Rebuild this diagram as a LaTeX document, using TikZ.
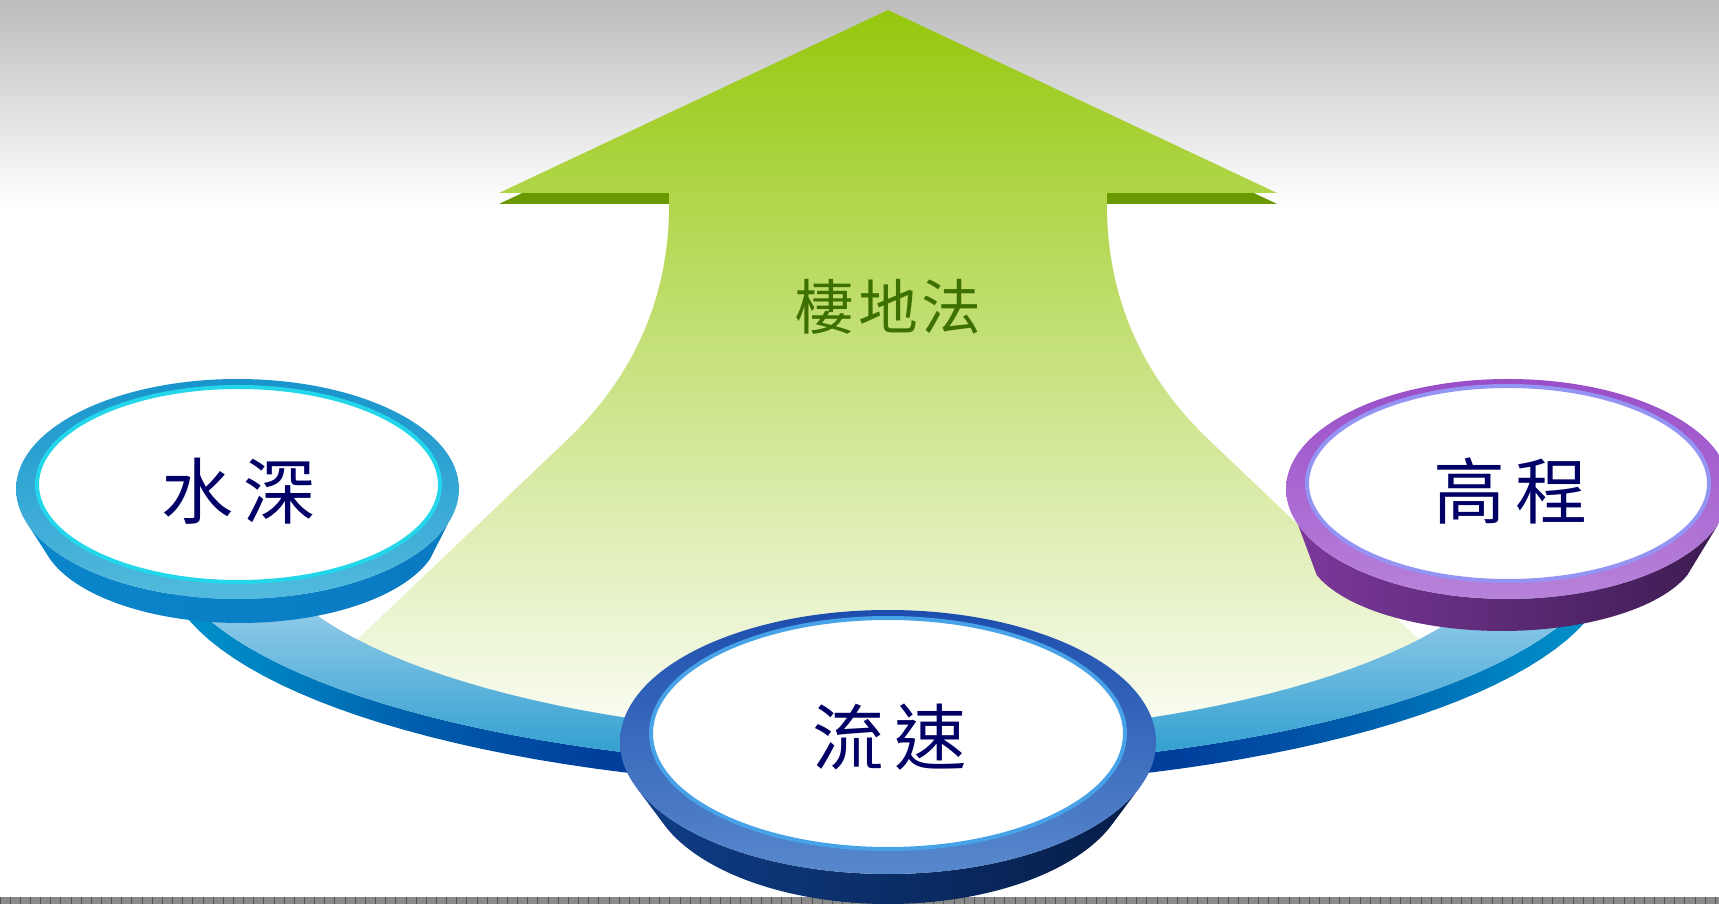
\documentclass[tikz,border=0pt]{standalone}
\usepackage{fontspec}
\newfontfamily\cjk{Noto Sans CJK TC}

% palette
\definecolor{bgtop}{HTML}{BCBCBC}
\definecolor{stripgray}{HTML}{8A8A8A}
\definecolor{stripline}{HTML}{555555}
\definecolor{leaftop}{HTML}{96C80E}
\definecolor{leafmid}{HTML}{D4E8BB}
\definecolor{leafdark}{HTML}{689A00}
\definecolor{titlegreen}{HTML}{3D7000}
\definecolor{labelnavy}{HTML}{000066}
\definecolor{ringtop}{HTML}{C8E4F6}
\definecolor{ringmid}{HTML}{94C8E8}
\definecolor{ringlow}{HTML}{2A9CCF}
\definecolor{ringA}{HTML}{0094CC}
\definecolor{ringB}{HTML}{0080C0}
\definecolor{ringC}{HTML}{005CAC}
\definecolor{ringD}{HTML}{003E9C}
\definecolor{ldrimT}{HTML}{1894CC}
\definecolor{ldrimB}{HTML}{52BADD}
\definecolor{ldedge}{HTML}{24D6EA}
\definecolor{ldsideL}{HTML}{0A86CA}
\definecolor{ldsideM}{HTML}{005E9E}
\definecolor{ldsideR}{HTML}{0A7AC2}
\definecolor{rdrimT}{HTML}{9A4EC8}
\definecolor{rdrimB}{HTML}{B882DA}
\definecolor{rdedge}{HTML}{9494F4}
\definecolor{rdsideL}{HTML}{7C389C}
\definecolor{rdsideM}{HTML}{5E2A80}
\definecolor{rdsideR}{HTML}{3C1C50}
\definecolor{cdrimT}{HTML}{1D4EAE}
\definecolor{cdrimB}{HTML}{5888CC}
\definecolor{cdedge}{HTML}{48A2E8}
\definecolor{cdsideL}{HTML}{0F3D86}
\definecolor{cdsideM}{HTML}{0A3170}
\definecolor{cdsideR}{HTML}{061D48}

% side face of the ring: bright at both ends, deep blue in the middle
\pgfdeclarehorizontalshading{ringside}{100bp}{%
  color(0bp)=(ringA); color(25bp)=(ringA); color(29bp)=(ringB);
  color(34bp)=(ringC); color(40bp)=(ringD); color(60bp)=(ringD);
  color(66bp)=(ringC); color(71bp)=(ringB); color(75bp)=(ringA);
  color(100bp)=(ringA)}

\begin{document}
\begin{tikzpicture}[x=0.01cm, y=-0.01cm,
  disklabel/.style={font=\cjk\fontsize{20.5}{20.5}\selectfont,
    text=labelnavy, inner sep=0pt},
  titlelabel/.style={font=\cjk\fontsize{17}{17}\selectfont,
    text=titlegreen, inner sep=0pt},
  whitetop/.style={fill=white, line width=0.04cm},
  ell/.style={samples=72, variable=\t}]
\useasboundingbox (0,0) rectangle (1719,904);

% background
\fill[white] (0,0) rectangle (1719,904);
\shade[top color=bgtop, bottom color=white] (0,0) rectangle (1719,205);
\fill[stripgray] (0,897) rectangle (1719,904);
\foreach \i in {0,...,169}
  \draw[stripline, line width=0.01cm] ({\i*10.15},897) -- ({\i*10.15},904);

% dark underside of the arrow head
\fill[leafdark] (888,20) -- (1277,204) -- (499,204) -- cycle;

% arrow: head and flaring shaft
\shade[top color=leaftop, middle color=leafmid, bottom color=white]
  (888,10) -- (1277,193) -- (1107,193)
  .. controls (1104,300) and (1146,380) .. (1209,440)
  -- (1433,653)
  -- plot[ell, domain=37:143] ({888+680*cos(\t)},{540+222*sin(\t)})
  -- (343,653) -- (567,440)
  .. controls (630,380) and (672,300) .. (669,193)
  -- (499,193) -- cycle;
\node[titlelabel] (title) at (888,307) {棲\hspace{0.04cm}地\hspace{0.04cm}法};

% ring joining the three disks: side face, then top face
\shade[shading=ringside]
  plot[ell, domain=0:180] ({888+724*cos(\t)},{561+227*sin(\t)})
  -- plot[ell, domain=0:180] ({888-724*cos(\t)},{541+227*sin(\t)}) -- cycle;
\shade[top color=ringtop, middle color=ringmid, bottom color=ringlow]
  plot[ell, domain=0:180] ({888+724*cos(\t)},{541+227*sin(\t)})
  -- plot[ell, domain=0:180] ({888-636*cos(\t)},{520+217*sin(\t)}) -- cycle;

% left disk
\shade[left color=ldsideL, middle color=ldsideM, right color=ldsideR]
  plot[ell, domain=18:162] ({237.5-221.5*cos(\t)},{489+110*sin(\t)})
  -- plot[ell, domain=18:162] ({240+200*cos(\t)},{530+93*sin(\t)}) -- cycle;
\shade[top color=ldrimT, bottom color=ldrimB]
  (237.5,489) ellipse [x radius=221.5, y radius=110];
\path[whitetop, draw=ldedge]
  (238.5,484.5) ellipse [x radius=201.5, y radius=97.5];
\node[disklabel] (depth) at (239,491) {水\hspace{0.1cm}深};

% right disk
\shade[left color=rdsideL, middle color=rdsideM, right color=rdsideR]
  plot[ell, domain=19:161] ({1508-222*cos(\t)},{489+110*sin(\t)})
  -- plot[ell, domain=19:161] ({1502+196*cos(\t)},{548+83*sin(\t)}) -- cycle;
\shade[top color=rdrimT, bottom color=rdrimB]
  (1508,489) ellipse [x radius=222, y radius=110];
\path[whitetop, draw=rdedge]
  (1508,483.5) ellipse [x radius=201, y radius=97.5];
\node[disklabel] (elevation) at (1511,491) {高\hspace{0.1cm}程};

% centre disk
\shade[left color=cdsideL, middle color=cdsideM, right color=cdsideR]
  plot[ell, domain=20.5:159.5] ({888-268*cos(\t)},{742+132*sin(\t)})
  -- plot[ell, domain=20.5:159.5] ({888+240*cos(\t)},{780+124*sin(\t)}) -- cycle;
\shade[top color=cdrimT, bottom color=cdrimB]
  (888,742) ellipse [x radius=268, y radius=132];
\path[whitetop, draw=cdedge]
  (888,733.5) ellipse [x radius=237, y radius=115.5];
\node[disklabel] (velocity) at (890,737) {流\hspace{0.1cm}速};
\end{tikzpicture}
\end{document}
